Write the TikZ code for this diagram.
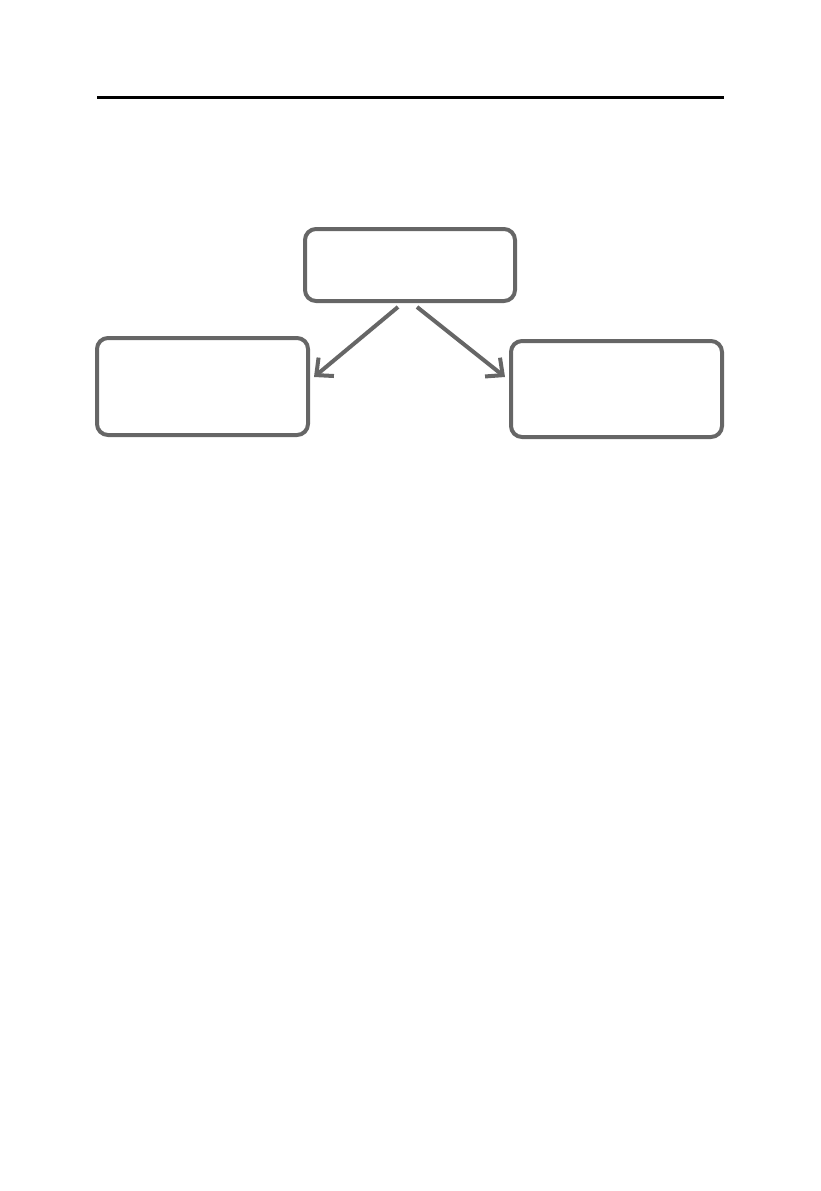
\documentclass[tikz,border=0pt]{standalone}
\usetikzlibrary{arrows.meta}
\definecolor{boxgray}{HTML}{666666}
\begin{document}
\begin{tikzpicture}[x=1pt,y=-1pt,
  box/.style={draw=boxgray,line width=4pt,rounded corners=11pt,inner sep=0pt},
  conn/.style={draw=boxgray,line width=4pt,-{Straight Barb[length=13pt,width=24pt,line width=4pt]}}]
\useasboundingbox (0,0) rectangle (821,1191);
\draw[line width=2.2pt] (97,97.5) -- (724,97.5);
\node[box,minimum width=210pt,minimum height=72pt] (top) at (410,265) {};
\node[box,minimum width=211pt,minimum height=97pt] (left) at (202.5,386.5) {};
\node[box,minimum width=211pt,minimum height=96pt] (right) at (616.5,389) {};
\coordinate (s1) at (398,307);
\coordinate (s2) at (417,307);
\coordinate (e1) at (314,377);
\coordinate (e2) at (505,377);
\draw[conn] (s1) -- (e1);
\draw[conn] (s2) -- (e2);
\end{tikzpicture}
\end{document}
